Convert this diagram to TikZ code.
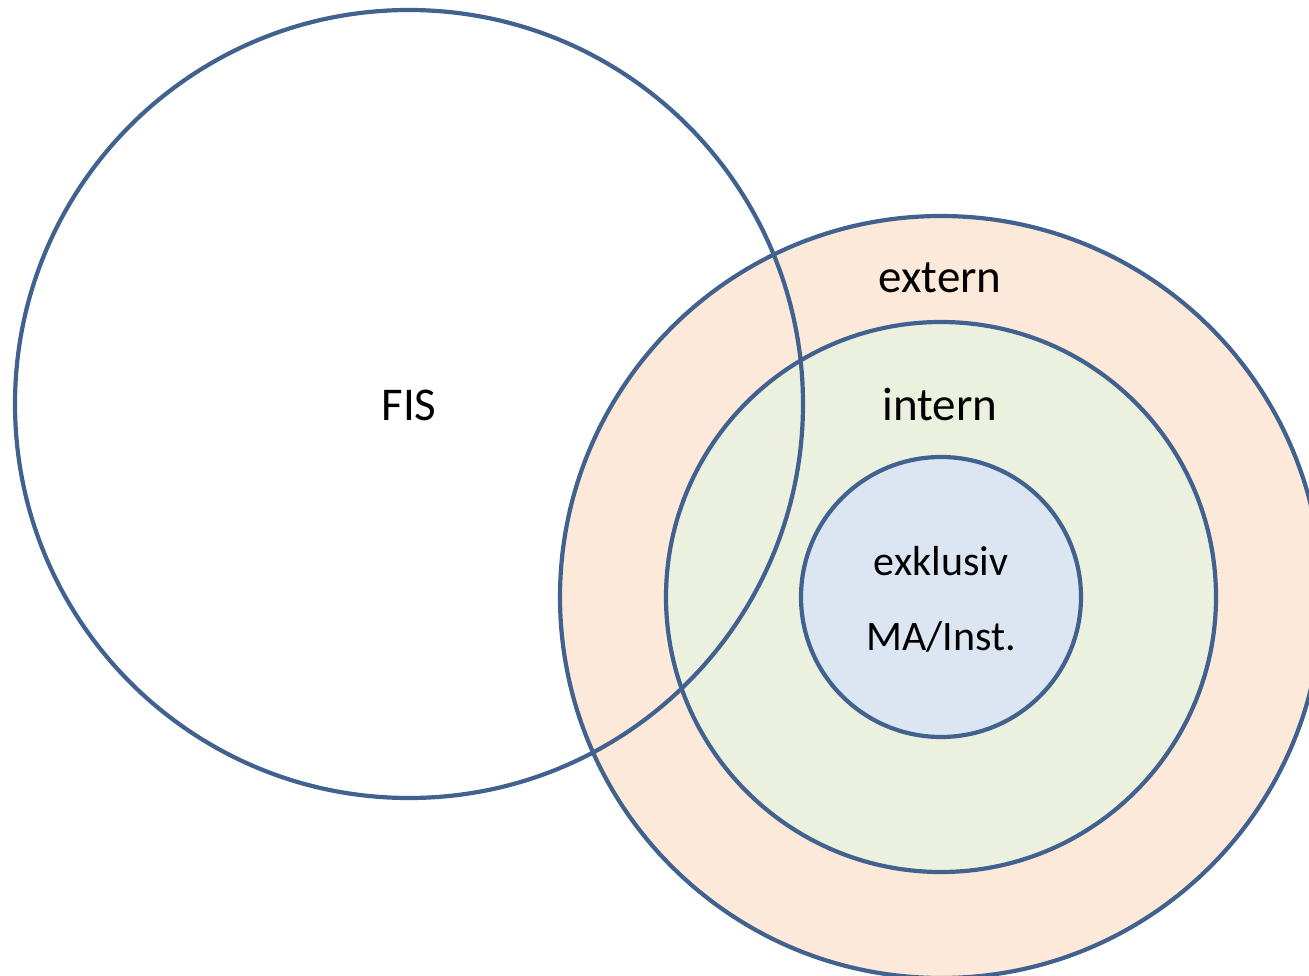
\documentclass[tikz,border=0pt]{standalone}
\usepackage{fontspec}
\setmainfont{Carlito}
\definecolor{edge}{HTML}{41618F}
\definecolor{fextern}{HTML}{FDE9D9}
\definecolor{fintern}{HTML}{EBF1DE}
\definecolor{fexkl}{HTML}{DCE6F2}
\begin{document}
\begin{tikzpicture}[x=1pt,y=-1pt,
  ring/.style={draw=edge,line width=4.2pt,circle,inner sep=0pt},
  lbl/.style={font=\fontsize{47}{56}\selectfont,inner sep=0pt},
  slbl/.style={font=\fontsize{42}{50}\selectfont,inner sep=0pt}]
\useasboundingbox (0,0) rectangle (1309,976);
\clip (0,0) rectangle (1309,976);
\node[ring,fill=fextern,minimum size=762pt] (ext) at (941,597) {};
\node[ring,fill=fintern,minimum size=550pt] (int) at (941,597) {};
\node[ring,fill=fexkl,minimum size=280pt] (exk) at (941,597) {};
\node[ring,minimum size=788pt] (fis) at (409,404) {};
\node[lbl] (tfis) at (409,405) {FIS};
\node[lbl] (text) at (940,278) {extern};
\node[lbl] (tint) at (940,405) {intern};
\node[slbl] (texk) at (941,561) {exklusiv};
\node[slbl] (tma) at (941,637) {MA/Inst.};
\end{tikzpicture}
\end{document}
